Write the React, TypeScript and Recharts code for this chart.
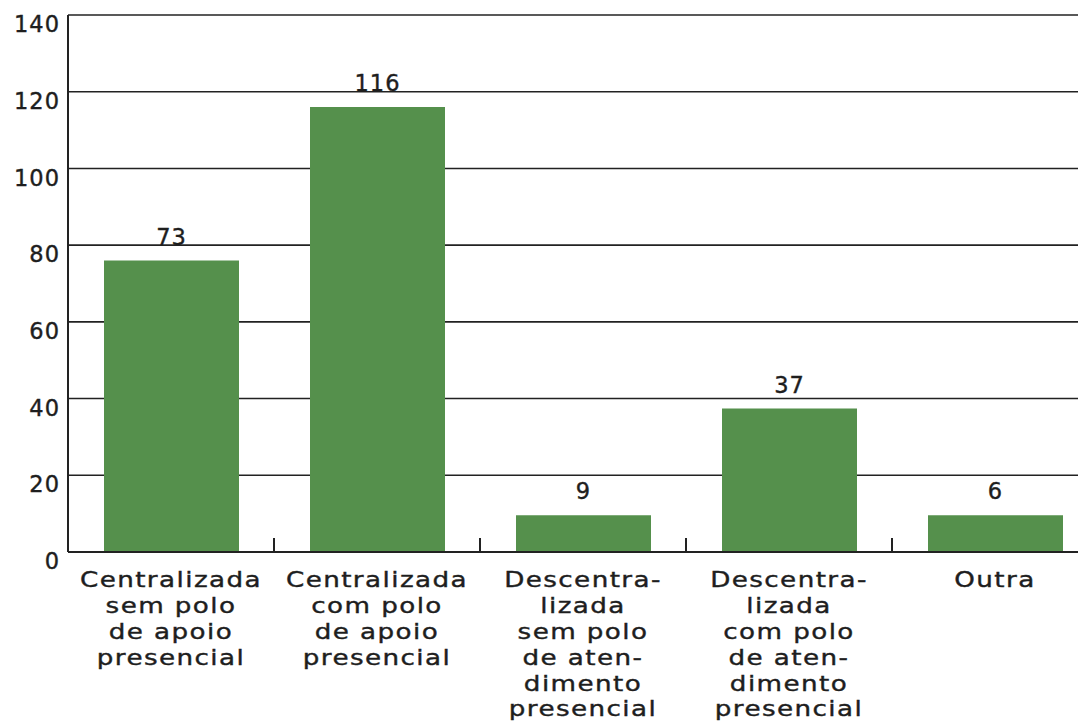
import React from "react";
import { BarChart, Bar, XAxis, YAxis, CartesianGrid, LabelList } from "recharts";

const categories = ["c1", "c2", "c3", "c4", "c5"];
const categoryLines: string[][] = [
  ["Centralizada", "sem polo", "de apoio", "presencial"],
  ["Centralizada", "com polo", "de apoio", "presencial"],
  ["Descentra-", "lizada", "sem polo", "de aten-", "dimento", "presencial"],
  ["Descentra-", "lizada", "com polo", "de aten-", "dimento", "presencial"],
  ["Outra"],
];
const barValues = [76, 116, 9.6, 37.4, 9.6];
const barLabels = ["73", "116", "9", "37", "6"];
const yTicks = [0, 20, 40, 60, 80, 100, 120, 140];

const data = categories.map((c, i) => ({ name: c, value: barValues[i] }));

const FONT = "'DejaVu Sans', Verdana, sans-serif";
const TEXT = "#1e1e1e";
const BAND = 206;

const YTick = (props: any) => {
  const { x, y, payload } = props;
  return (
    <text x={x} y={y + 9} dy="0.36em" textAnchor="end" fontFamily={FONT} fontSize={22.5} letterSpacing={1} fill={TEXT} stroke={TEXT} strokeWidth={0.4}>
      {payload.value}
    </text>
  );
};

const XTick = (props: any) => {
  const { x, y, index } = props;
  const lines = categoryLines[index] || [];
  return (
    <g>
      <line x1={x + BAND / 2} x2={x + BAND / 2} y1={y - 14} y2={y} stroke="#222" strokeWidth={2} />
      <g transform={`translate(${x},${y + 27}) scale(1.19,1)`}>
        <text x={0} y={0} textAnchor="middle" fontFamily={FONT} fontSize={22} letterSpacing={1.2} fill={TEXT} stroke={TEXT} strokeWidth={0.4}>
          {lines.map((l, i) => (
            <tspan key={i} x={0} dy={i === 0 ? "0.36em" : 25.9}>
              {l}
            </tspan>
          ))}
        </text>
      </g>
    </g>
  );
};

const BarLabel = (props: any) => {
  const { x, y, width, index } = props;
  return (
    <text x={x + width / 2} y={y - 24} dy="0.36em" textAnchor="middle" fontFamily={FONT} fontSize={22.5} letterSpacing={1} fill={TEXT} stroke={TEXT} strokeWidth={0.4}>
      {barLabels[index]}
    </text>
  );
};

export default function App() {
  return (
    <div style={{ position: "absolute", left: 0, top: 0, width: 1078, height: 722, overflow: "hidden", background: "#fff" }}>
      <BarChart
        width={1115}
        height={722}
        data={data}
        margin={{ top: 15, right: 17, bottom: 0, left: 0 }}
      >
        <CartesianGrid vertical={false} stroke="#222" strokeWidth={1.6} />
        <XAxis
          dataKey="name"
          height={170}
          tickSize={0}
          tickMargin={0}
          tickLine={false}
          axisLine={{ stroke: "#222", strokeWidth: 2 }}
          tick={<XTick />}
          interval={0}
        />
        <YAxis
          width={68}
          domain={[0, 140]}
          ticks={yTicks}
          tickLine={false}
          axisLine={{ stroke: "#222", strokeWidth: 2 }}
          tick={<YTick />}
          interval={0}
        />
        <Bar dataKey="value" fill="#55904c" barSize={135} isAnimationActive={false}>
          <LabelList dataKey="value" content={<BarLabel />} />
        </Bar>
      </BarChart>
    </div>
  );
}
